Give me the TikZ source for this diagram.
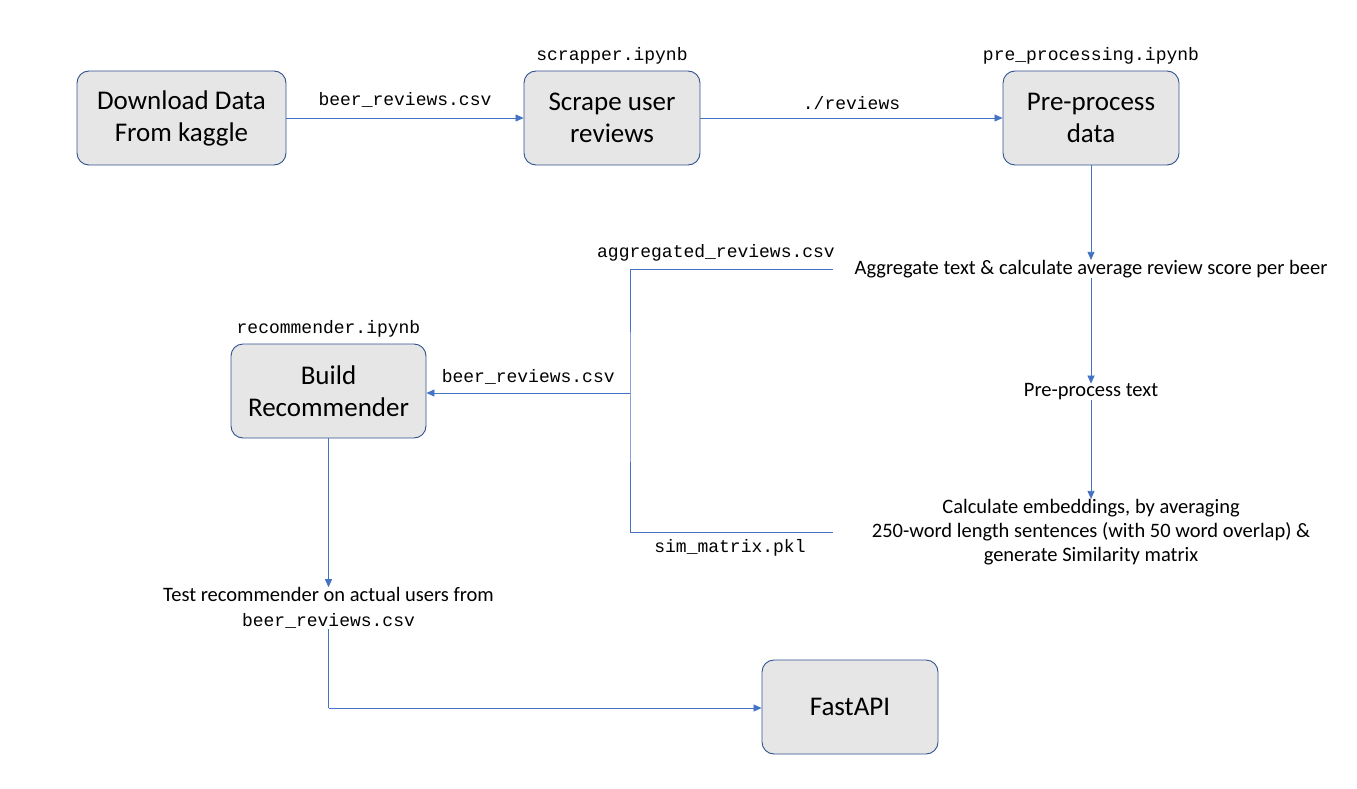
\documentclass[tikz,border=0pt]{standalone}
\usepackage{fontspec}
\setmainfont{Carlito}
\setmonofont{Liberation Mono}
\usetikzlibrary{arrows.meta,positioning}
\definecolor{flowblue}{HTML}{4472C4}
\definecolor{boxedge}{HTML}{2F528F}
\definecolor{boxfill}{HTML}{E7E6E6}

\begin{document}
\begin{tikzpicture}[x=1pt,y=-1pt,
 stagebox/.style={draw=boxedge,line width=0.9pt,rounded corners=12pt,fill=boxfill,align=center,
   minimum width=176pt,minimum height=94pt,inner sep=0pt,font=\fontsize{27}{32}\selectfont},
 steptext/.style={align=center,inner sep=0pt,font=\fontsize{20.5}{24}\selectfont},
 filelabel/.style={inner sep=0pt,font=\ttfamily\fontsize{18}{24}\selectfont},
 flowarrow/.style={-{Triangle[length=8pt,width=7pt]},line width=0.8pt,draw=flowblue},
 flowline/.style={line width=0.8pt,draw=flowblue}
]
\useasboundingbox (0,0) rectangle (1357,789);
% top row
\node[stagebox,minimum width=209pt] (download) at (181.5,118) {Download Data\\From kaggle};
\node[stagebox] (scrape) at (612,118) {Scrape user\\reviews};
\node[stagebox] (preproc) at (1091,118) {Pre-process\\data};
\node[filelabel] (scrapenb) at (612,56) {scrapper.ipynb};
\node[filelabel] (prenb) at (1091,56) {pre\_processing.ipynb};
% right column
\node[steptext] (agg) at (1091,269) {Aggregate text \& calculate average review score per beer};
\node[steptext] (ptext) at (1091,392) {Pre-process text};
\node[steptext] (embed) at (1091,532) {Calculate embeddings, by averaging\\250-word length sentences (with 50 word overlap) \&\\generate Similarity matrix};
% left column
\node[stagebox,minimum width=195pt] (build) at (328.5,391) {Build\\Recommender};
\node[filelabel] (recnb) at (328.5,329) {recommender.ipynb};
\node[steptext,font=\fontsize{20.5}{25}\selectfont] (test) at (328.5,608)
  {Test recommender on actual users from\\{\ttfamily\fontsize{18}{25}\selectfont beer\_reviews.csv}};
\node[stagebox] (fastapi) at (850,707) {FastAPI};
% files passed along
\coordinate (aggend) at (833,269);
\coordinate (embend) at (833,532);
\coordinate (bus) at (630,393);
\coordinate (turn) at (328.5,708);
\draw[flowarrow] (download) -- node[filelabel,above=10pt] (kaggfile) {beer\_reviews.csv} (scrape);
\draw[flowarrow] (scrape) -- node[filelabel,above=8pt] (revdir) {./reviews} (preproc);
\draw[flowarrow] (preproc) -- (agg);
\draw[flowarrow] (agg) -- (ptext);
\draw[flowarrow] (ptext) -- (embed);
\draw[flowline] (aggend) -| (bus) |- (embend);
\node[filelabel] (aggfile) at (716,253) {aggregated\_reviews.csv};
\node[filelabel] (simfile) at (730,548) {sim\_matrix.pkl};
\draw[flowarrow] (bus) -- node[filelabel,above=8pt] (beerfile) {beer\_reviews.csv} (build.east |- bus);
\draw[flowarrow] (build) -- (test);
\draw[flowline] (test.south -| turn) -- (turn);
\draw[flowarrow] (turn) -- (fastapi.west |- turn);
\end{tikzpicture}
\end{document}
